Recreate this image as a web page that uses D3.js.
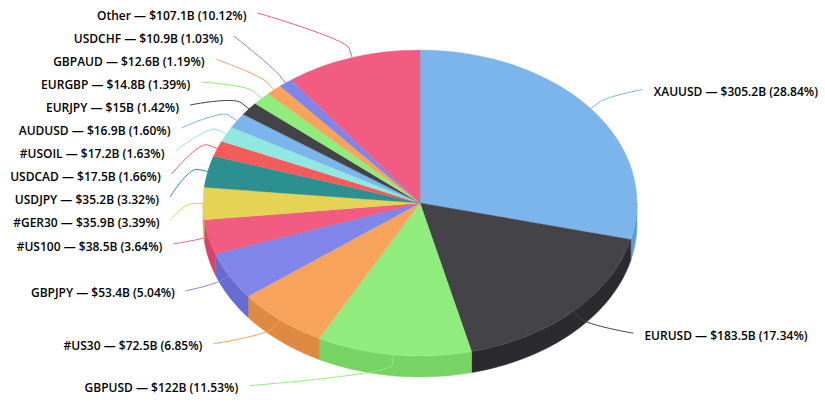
<!doctype html>
<html>
<head>
<meta charset="utf-8"/>
<script src="https://cdnjs.cloudflare.com/ajax/libs/d3/7.8.5/d3.min.js"></script>
<style>
  body { margin: 0; background: #fff; }
  text { font-family: "Open Sans", "Liberation Sans", Arial, sans-serif; font-size: 12px; font-weight: 600; fill: #000; }
</style>
</head>
<body>
<svg id="chart" width="825" height="406"></svg>
<script>
// data, clockwise from 12 o'clock
var symbols = ["XAUUSD", "EURUSD", "GBPUSD", "#US30", "GBPJPY", "#US100", "#GER30", "USDJPY",
               "USDCAD", "#USOIL", "AUDUSD", "EURJPY", "EURGBP", "GBPAUD", "USDCHF", "Other"];
var volumes = [305.2, 183.5, 122, 72.5, 53.4, 38.5, 35.9, 35.2, 17.5, 17.2, 16.9, 15, 14.8, 12.6, 10.9, 107.1];
var shares = ["28.84%", "17.34%", "11.53%", "6.85%", "5.04%", "3.64%", "3.39%", "3.32%",
              "1.66%", "1.63%", "1.60%", "1.42%", "1.39%", "1.19%", "1.03%", "10.12%"];
var palette = ["#7cb5ec", "#434348", "#90ed7d", "#f7a35c", "#8085e9", "#f15c80", "#e4d354", "#2b908f", "#f45b5b", "#91e8e1"];

var cx = 420, cy = 203, rx = 217, ry = 153, depth = 21;
var labelR = 250, labelRy = 184, gap = 23, topY = 13;

var svg = d3.select("#chart");
var color = d3.scaleOrdinal().domain(d3.range(symbols.length)).range(palette);

function sideColor(c) {
  var k = d3.rgb(c);
  return d3.rgb(k.r - 25, k.g - 25, k.b - 25);
}

var rows = symbols.map(function (s, i) { return { i: i, name: s, value: volumes[i], share: shares[i] }; });
var arcs = d3.pie().sort(null).value(function (d) { return d.value; })(rows);

function onEllipse(a, ex, ey) {
  return [cx + ex * Math.sin(a), cy - ey * Math.cos(a)];
}

// outer walls, only the front half can be seen
var sides = svg.append("g");
arcs.forEach(function (d) {
  var s = Math.max(d.startAngle, Math.PI / 2), e = Math.min(d.endAngle, Math.PI * 3 / 2);
  if (s >= e) return;
  var n = 40, top = [], bottom = [];
  for (var k = 0; k <= n; k++) {
    var p = onEllipse(s + (e - s) * k / n, rx, ry);
    top.push(p);
    bottom.push([p[0], p[1] + depth]);
  }
  var pts = top.concat(bottom.reverse());
  sides.append("path")
    .attr("d", "M" + pts.map(function (p) { return p[0].toFixed(2) + "," + p[1].toFixed(2); }).join("L") + "Z")
    .attr("fill", sideColor(color(d.index)))
    .attr("stroke", sideColor(color(d.index)))
    .attr("stroke-width", 0.5);
});

// top face
var arc = d3.arc().innerRadius(0).outerRadius(rx);
svg.append("g")
  .attr("transform", "translate(" + cx + "," + cy + ") scale(1," + (ry / rx) + ")")
  .selectAll("path")
  .data(arcs)
  .enter().append("path")
  .attr("d", arc)
  .attr("fill", function (d) { return color(d.index); })
  .attr("stroke", function (d) { return color(d.index); })
  .attr("stroke-width", 0.4);

// label placement
var labels = arcs.map(function (d) {
  var mid = (d.startAngle + d.endAngle) / 2;
  return { d: d, mid: mid, left: Math.sin(mid) < 0, ny: cy - labelRy * Math.cos(mid) };
});

function spread(items) {
  items.sort(function (a, b) { return a.ny - b.ny; });
  var groups = items.map(function (it) { return { items: [it] }; });
  var merged = true;
  while (merged) {
    merged = false;
    groups.forEach(function (g) {
      var m = d3.mean(g.items, function (it) { return it.ny; });
      g.top = Math.max(topY, m - (g.items.length - 1) * gap / 2);
    });
    for (var i = 0; i < groups.length - 1; i++) {
      var a = groups[i], b = groups[i + 1];
      if (a.top + a.items.length * gap > b.top) {
        a.items = a.items.concat(b.items);
        groups.splice(i + 1, 1);
        merged = true;
        break;
      }
    }
  }
  groups.forEach(function (g) {
    g.items.forEach(function (it, k) { it.y = g.top + k * gap; });
  });
}
spread(labels.filter(function (l) { return l.left; }));
spread(labels.filter(function (l) { return !l.left; }));

var lg = svg.append("g");
labels.forEach(function (l) {
  var dir = l.left ? -1 : 1;
  var dy = l.y - cy;
  var x = cx + dir * Math.sqrt(Math.max(0, labelR * labelR - dy * dy));
  var touch = onEllipse(l.mid, rx, ry);
  var brk = onEllipse(l.mid, rx + 10, ry + 10);
  var c2 = [2 * brk[0] - touch[0], 2 * brk[1] - touch[1]];
  lg.append("path")
    .attr("d", "M" + x + "," + l.y + "C" + x + "," + l.y + " " + c2[0] + "," + c2[1] + " " +
      brk[0] + "," + brk[1] + "L" + touch[0] + "," + touch[1])
    .attr("fill", "none")
    .attr("stroke", color(l.d.index))
    .attr("stroke-width", 1);
  lg.append("text")
    .attr("x", x + dir * 11)
    .attr("y", l.y + 2.5)
    .attr("dy", "0.35em")
    .attr("text-anchor", l.left ? "end" : "start")
    .text(l.d.data.name + " \u2014 $" + l.d.data.value + "B (" + l.d.data.share + ")");
});
</script>
</body>
</html>
